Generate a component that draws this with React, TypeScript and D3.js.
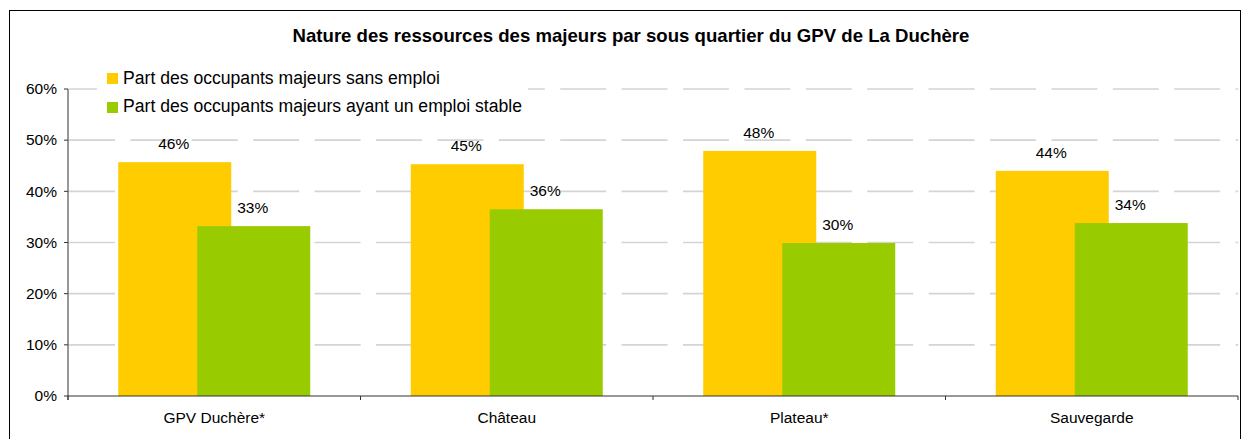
import React from "react";
import * as d3 from "d3";

const categories = ["GPV Duchère*", "Château", "Plateau*", "Sauvegarde"];
const sansEmploi = [45.7, 45.3, 47.9, 44.0];
const emploiStable = [33.2, 36.5, 29.9, 33.8];
const sansEmploiLabels = ["46%", "45%", "48%", "44%"];
const emploiStableLabels = ["33%", "36%", "30%", "34%"];
const yTicks = [0, 10, 20, 30, 40, 50, 60];
const title = "Nature des ressources des majeurs par sous quartier du GPV de La Duchère";
const seriesNames = ["Part des occupants majeurs sans emploi", "Part des occupants majeurs ayant un emploi stable"];

const W = 1242;
const H = 439;
const left = 68;
const right = 1238;
const top = 89;
const bottom = 396;
const YELLOW = "#FFCC00";
const GREEN = "#99CC00";
const FONT = "'Liberation Sans', Arial, sans-serif";

export default function App() {
  const x = d3.scaleBand<string>().domain(categories).range([left, right]).padding(0);
  const y = d3.scaleLinear().domain([0, 60]).range([bottom, top]);
  const bw = 113;
  const offset = 79;
  const groupW = bw + offset;

  const boundaries = [left, ...categories.map((c) => (x(c) as number) + x.bandwidth())];

  return (
    <svg width={W} height={H} style={{ position: "absolute", left: 0, top: 0, background: "#fff" }} fontFamily={FONT}>
      <rect x={9.5} y={10.5} width={1231} height={440} fill="#fff" stroke="#000" strokeWidth={1} />
      {/* gridlines */}
      {yTicks.filter((t) => t > 0).map((t) => (
        <line key={t} x1={left + 1} x2={right} y1={y(t)} y2={y(t)} stroke="#d4d4d4" strokeWidth={1.6} strokeDasharray="46 15.4" />
      ))}
      {/* bars */}
      {categories.map((c, i) => {
        const x0 = (x(c) as number) + (x.bandwidth() - groupW) / 2;
        return (
          <g key={c}>
            <rect x={x0} y={y(sansEmploi[i])} width={bw} height={bottom - y(sansEmploi[i])} fill={YELLOW} />
            <rect x={x0 + offset} y={y(emploiStable[i])} width={bw} height={bottom - y(emploiStable[i])} fill={GREEN} />
            <text x={x0 + bw / 2 - 1} y={y(sansEmploi[i]) - 13} textAnchor="middle" fontSize={15.5} fill="#000">{sansEmploiLabels[i]}</text>
            <text x={x0 + offset + bw / 2 - 1} y={y(emploiStable[i]) - 13} textAnchor="middle" fontSize={15.5} fill="#000">{emploiStableLabels[i]}</text>
            <text x={(x(c) as number) + x.bandwidth() / 2} y={423} textAnchor="middle" fontSize={15.5} fill="#000">{c}</text>
          </g>
        );
      })}
      {/* legend */}
      <rect x={97} y={64} width={431} height={55} fill="#fff" />
      <rect x={107} y={73} width={11} height={11} fill={YELLOW} />
      <text x={123} y={83.5} fontSize={17.6} fill="#000">{seriesNames[0]}</text>
      <rect x={107} y={102} width={11} height={11} fill={GREEN} />
      <text x={123} y={112} fontSize={17.6} fill="#000">{seriesNames[1]}</text>
      {/* axes */}
      <line x1={left} x2={left} y1={top} y2={bottom + 4} stroke="#333" strokeWidth={1} />
      <line x1={left} x2={right} y1={bottom} y2={bottom} stroke="#333" strokeWidth={1} />
      {yTicks.map((t) => (
        <g key={t}>
          <line x1={left - 4} x2={left} y1={y(t)} y2={y(t)} stroke="#333" />
          <text x={57} y={y(t) + 5.3} textAnchor="end" fontSize={15.5} fill="#000">{t}%</text>
        </g>
      ))}
      {boundaries.map((b, i) => (
        <line key={i} x1={b} x2={b} y1={bottom} y2={bottom + 4} stroke="#333" />
      ))}
      <text x={631} y={42} textAnchor="middle" fontSize={18.6} fontWeight="bold" fill="#000">{title}</text>
    </svg>
  );
}
